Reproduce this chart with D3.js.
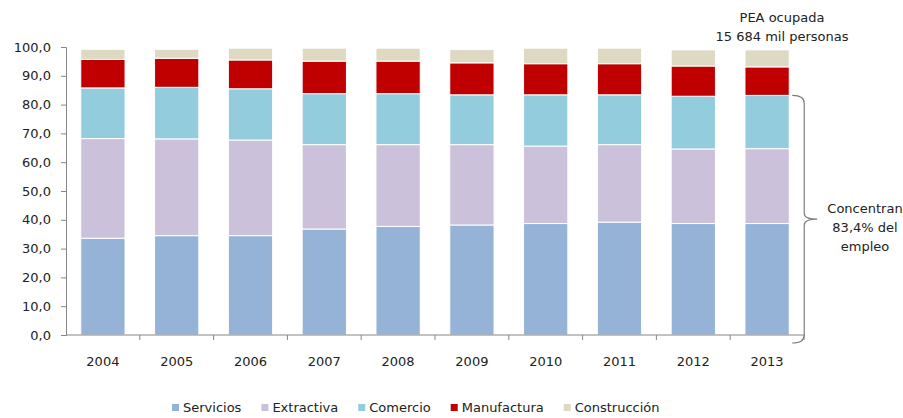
<!DOCTYPE html>
<html>
<head>
<meta charset="utf-8">
<script src="https://cdn.jsdelivr.net/npm/d3@7"></script>
<style>
  body { margin: 0; background: #ffffff; }
  svg { display: block; font-family: "DejaVu Sans", sans-serif; }
  .tick text { fill: #222; }
</style>
</head>
<body>
<div id="chart"></div>
<script>
// years on the x axis
var years = ["2004", "2005", "2006", "2007", "2008", "2009", "2010", "2011", "2012", "2013"];

// share of employment by sector (%)
var servicios    = [33.6, 34.5, 34.5, 36.8, 37.7, 38.2, 38.7, 39.2, 38.7, 38.7];
var extractiva   = [34.6, 33.6, 33.2, 29.3, 28.4, 27.9, 26.9, 26.9, 25.9, 26.0];
var comercio     = [17.6, 17.9, 17.8, 17.7, 17.7, 17.3, 17.8, 17.3, 18.3, 18.5];
var manufactura  = [ 9.9, 10.1, 10.0, 11.3, 11.3, 11.1, 10.8, 10.8, 10.5,  9.9];
var construccion = [ 3.5,  3.1,  4.1,  4.5,  4.5,  4.6,  5.4,  5.4,  5.6,  5.9];

var sectors = ["Servicios", "Extractiva", "Comercio", "Manufactura", "Construcción"];
var colors  = ["#95b3d7", "#ccc1da", "#93cddd", "#c00000", "#ddd9c3"];

var yTicks = [0, 10, 20, 30, 40, 50, 60, 70, 80, 90, 100];

var width = 903, height = 418;
var margin = {top: 47, left: 66, right: 99, bottom: 83};

var rows = years.map(function(y, i){
    return {year: y, "Servicios": servicios[i], "Extractiva": extractiva[i],
            "Comercio": comercio[i], "Manufactura": manufactura[i], "Construcción": construccion[i]};
});

var svg = d3.select("#chart").append("svg")
    .attr("width", width)
    .attr("height", height);

var x = d3.scaleBand()
    .domain(years)
    .range([margin.left, width - margin.right])
    .paddingInner(0.4)
    .paddingOuter(0.2);

var y = d3.scaleLinear()
    .domain([0, 100])
    .range([height - margin.bottom, margin.top]);

var color = d3.scaleOrdinal().domain(sectors).range(colors);

var stacked = d3.stack().keys(sectors)(rows);

//bars
svg.append("g").selectAll("g")
    .data(stacked)
    .enter().append("g")
    .attr("fill", function(d){ return color(d.key); })
    .selectAll("rect")
    .data(function(d){ return d; })
    .enter().append("rect")
    .attr("x", function(d){ return x(d.data.year); })
    .attr("width", x.bandwidth())
    .attr("y", function(d){ return y(d[1]); })
    .attr("height", function(d){ return y(d[0]) - y(d[1]); })
    .attr("stroke", "#ffffff")
    .attr("stroke-width", 1);

// y axis
var yAxis = svg.append("g")
    .attr("transform", "translate(" + margin.left + ",0)")
    .call(d3.axisLeft(y).tickValues(yTicks).tickSize(5).tickPadding(10)
        .tickFormat(function(d){ return d3.format(".1f")(d).replace(".", ","); }));
yAxis.selectAll("text").attr("font-size", 13).attr("font-family", "DejaVu Sans");
yAxis.selectAll("line, path").attr("stroke", "#868686");

// x axis - ticks on band boundaries
var xAxis = svg.append("g")
    .attr("transform", "translate(0," + y(0) + ")")
    .call(d3.axisBottom(x).tickSize(0).tickPadding(22));
xAxis.select(".domain").attr("stroke", "#868686").attr("d", "M" + margin.left + ",0H" + (width - margin.right));
xAxis.selectAll("text").attr("font-size", 13).attr("font-family", "DejaVu Sans");

var step = x.step();
var bounds = years.map(function(d){ return x(d) - x.paddingOuter() * step + step; });
svg.append("g").selectAll("line")
    .data(bounds)
    .enter().append("line")
    .attr("x1", function(d){ return d; })
    .attr("x2", function(d){ return d; })
    .attr("y1", y(0))
    .attr("y2", y(0) + 5)
    .attr("stroke", "#868686");

// brace next to the last bar
var last = years.length - 1;
var topY = y(servicios[last] + extractiva[last] + comercio[last]);
var botY = y(0) + 8;
var midY = (topY + botY) / 2;
var bx = x(years[last]) + x.bandwidth() + 3;
svg.append("path")
    .attr("d", "M" + bx + "," + topY +
        " Q" + (bx + 12) + "," + topY + " " + (bx + 12) + "," + (topY + 8) +
        " L" + (bx + 12) + "," + (midY - 6) +
        " Q" + (bx + 12) + "," + midY + " " + (bx + 25) + "," + midY +
        " Q" + (bx + 12) + "," + midY + " " + (bx + 12) + "," + (midY + 6) +
        " L" + (bx + 12) + "," + (botY - 8) +
        " Q" + (bx + 12) + "," + botY + " " + bx + "," + botY)
    .attr("fill", "none")
    .attr("stroke", "#7f7f7f")
    .attr("stroke-width", 1.2);

var note = svg.append("text")
    .attr("x", 865)
    .attr("y", 213)
    .attr("text-anchor", "middle")
    .attr("font-size", 13)
    .attr("fill", "#222");
["Concentran", "83,4% del", "empleo"].forEach(function(t, i){
    note.append("tspan").attr("x", 865).attr("dy", i == 0 ? 0 : 19).text(t);
});

var pea = svg.append("text")
    .attr("x", 782)
    .attr("y", 22)
    .attr("text-anchor", "middle")
    .attr("font-size", 13)
    .attr("fill", "#222");
["PEA ocupada", "15 684 mil personas"].forEach(function(t, i){
    pea.append("tspan").attr("x", 782).attr("dy", i == 0 ? 0 : 19).text(t);
});

// legend
var legend = svg.append("g").attr("transform", "translate(0,412)");
var lx = 172;
sectors.forEach(function(s, i){
    var item = legend.append("g").attr("transform", "translate(" + lx + ",0)");
    item.append("rect").attr("x", 0).attr("y", -8).attr("width", 7).attr("height", 7).attr("fill", colors[i]);
    var t = item.append("text").attr("x", 11).attr("y", 0).attr("font-size", 13).attr("fill", "#222").text(s);
    lx += 11 + t.node().getComputedTextLength() + 20;
});
</script>
</body>
</html>
